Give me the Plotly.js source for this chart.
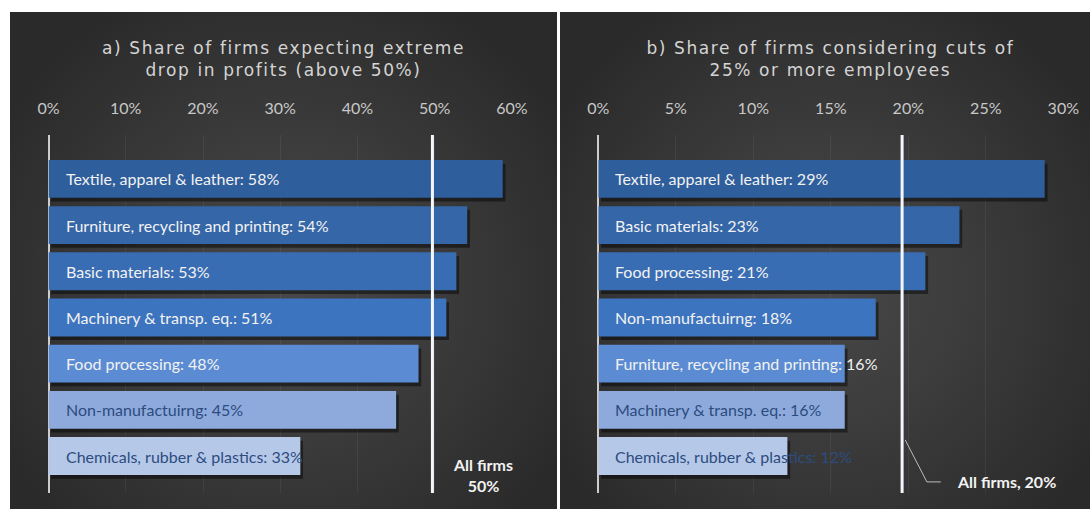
<!DOCTYPE html>
<html>
<head>
<meta charset="utf-8">
<script src="https://cdn.plot.ly/plotly-3.0.1.min.js"></script>
<style>
  html, body { margin: 0; padding: 0; background: #ffffff; }
  #wrap { position: relative; width: 1090px; height: 509px; background: #ffffff; overflow: hidden; }
  .panel { position: absolute; top: 12px; height: 497px;
    background: radial-gradient(ellipse 60% 65% at 50% 55%, #484848 0%, #3c3c3c 45%, #2a2a2a 100%); }
  #pa { left: 10px; width: 547px; }
  #pb { left: 560px; width: 530px; }
  #chart { position: absolute; left: 0; top: 0; width: 1090px; height: 509px; }
  .annotation[data-index="14"] text, .annotation[data-index="15"] text { letter-spacing: 1.6px; }
</style>
</head>
<body>
<div id="wrap">
  <div class="panel" id="pa"></div>
  <div class="panel" id="pb"></div>
  <div id="chart"></div>
</div>
<script>
// ---- Panel a) share of firms expecting extreme drop in profits ----
const categoriesA = ["Textile, apparel & leather", "Furniture, recycling and printing", "Basic materials",
  "Machinery & transp. eq.", "Food processing", "Non-manufactuirng", "Chemicals, rubber & plastics"];
const valuesA = [58.8, 54.2, 52.8, 51.5, 47.9, 45.0, 32.6];
const labelsA = ["58%", "54%", "53%", "51%", "48%", "45%", "33%"];
const allFirmsA = 49.7;
const allFirmsLabelA = "All firms<br>50%";

// ---- Panel b) share of firms considering cuts of 25% or more employees ----
const categoriesB = ["Textile, apparel & leather", "Basic materials", "Food processing", "Non-manufactuirng",
  "Furniture, recycling and printing", "Machinery & transp. eq.", "Chemicals, rubber & plastics"];
const valuesB = [28.8, 23.3, 21.1, 17.9, 15.9, 15.9, 12.2];
const labelsB = ["29%", "23%", "21%", "18%", "16%", "16%", "12%"];
const allFirmsB = 19.6;
const allFirmsLabelB = "All firms, 20%";

const ticksA = [0, 10, 20, 30, 40, 50, 60];
const tickTextA = ["0%", "10%", "20%", "30%", "40%", "50%", "60%"];
const ticksB = [0, 5, 10, 15, 20, 25, 30];
const tickTextB = ["0%", "5%", "10%", "15%", "20%", "25%", "30%"];

const titleA = "a) Share of firms expecting extreme<br>drop in profits (above 50%)";
const titleB = "b) Share of firms considering cuts of<br>25% or more employees";

// styles (by rank, dark -> light)
const barColors = ["#2f5e9c", "#3466a8", "#396db3", "#3d74bf", "#5b8cd3", "#8eaadc", "#b6c8e8"];
const textColors = ["#f2f2f2", "#f2f2f2", "#f2f2f2", "#f2f2f2", "#f2f2f2", "#2c4c80", "#2c4c80"];
const FONT = "Lato, 'Open Sans', sans-serif";
const BW = 0.82;

function panelTraces(cats, vals, xa, ya, shadowBase) {
  return [
    { type: "bar", orientation: "h", y: cats, x: vals, base: shadowBase,
      xaxis: xa, yaxis: ya, width: BW, offset: -BW / 2 + 0.08,
      marker: { color: "rgba(0,0,0,0.45)" }, hoverinfo: "skip", showlegend: false },
    { type: "bar", orientation: "h", y: cats, x: vals,
      xaxis: xa, yaxis: ya, width: BW, offset: -BW / 2,
      marker: { color: barColors }, hoverinfo: "x+y", showlegend: false }
  ];
}

const data = [].concat(
  panelTraces(categoriesA, valuesA, "x", "y", 0.35),
  panelTraces(categoriesB, valuesB, "x2", "y2", 0.18)
);

const annotations = [];
categoriesA.forEach((c, i) => annotations.push({
  xref: "x", yref: "y", x: 0, y: c, xanchor: "left", yanchor: "middle", xshift: 15,
  text: c + ": " + labelsA[i], showarrow: false,
  font: { family: FONT, size: 16, color: textColors[i] }
}));
categoriesB.forEach((c, i) => annotations.push({
  xref: "x2", yref: "y2", x: 0, y: c, xanchor: "left", yanchor: "middle", xshift: 15,
  text: c + ": " + labelsB[i], showarrow: false,
  font: { family: FONT, size: 16, color: textColors[i] }
}));
// titles
annotations.push({ xref: "paper", yref: "paper", x: 283 / 1090, y: 1 - 59 / 509, xanchor: "center", yanchor: "middle",
  text: titleA, showarrow: false, font: { family: "DejaVu Sans", size: 17, color: "#d4d4d4" } });
annotations.push({ xref: "paper", yref: "paper", x: 831 / 1090, y: 1 - 59 / 509, xanchor: "center", yanchor: "middle",
  text: titleB, showarrow: false, font: { family: "DejaVu Sans", size: 17, color: "#d4d4d4" } });
// all firms labels
annotations.push({ xref: "x", yref: "y", x: 56.2, y: 6.4, xanchor: "center", yanchor: "middle",
  text: allFirmsLabelA, showarrow: false, font: { family: FONT, size: 16, color: "#f2f2f2", weight: "bold" } });
annotations.push({ xref: "x2", yref: "y2", x: 23.0, y: 6.56, xanchor: "left", yanchor: "middle",
  text: allFirmsLabelB, showarrow: false, font: { family: FONT, size: 16, color: "#f2f2f2", weight: "bold" } });

const shapes = [
  { type: "line", xref: "x", yref: "y domain", x0: allFirmsA, x1: allFirmsA, y0: 0, y1: 1,
    line: { color: "#f4f6fb", width: 3 } },
  { type: "line", xref: "x2", yref: "y2 domain", x0: allFirmsB, x1: allFirmsB, y0: 0, y1: 1,
    line: { color: "#f4f6fb", width: 3 } },
  { type: "path", xref: "x2", yref: "y2",
    path: "M " + (allFirmsB + 0.2) + " 5.65 L 21.2 6.56 L 22.1 6.56",
    line: { color: "#bdbdbd", width: 1 } }
];

function xaxisDef(domain, range, tv, tt, anchor) {
  return {
    domain: domain, range: range, side: "top", anchor: anchor,
    tickvals: tv, ticktext: tt, ticks: "outside", ticklen: 14, tickcolor: "rgba(0,0,0,0)",
    tickfont: { family: FONT, size: 16, color: "#c8c8c8" },
    showgrid: true, gridcolor: "rgba(255,255,255,0.06)", gridwidth: 1,
    zeroline: true, zerolinecolor: "#cdcdcd", zerolinewidth: 2,
    showline: false, fixedrange: true
  };
}
function yaxisDef(cats, anchor) {
  return {
    domain: [16 / 509, 1 - 135 / 509], type: "category", categoryorder: "array", categoryarray: cats,
    range: [6.80, -0.95], showticklabels: false, showgrid: false, zeroline: false,
    showline: false, ticks: "", anchor: anchor, fixedrange: true
  };
}

const layout = {
  width: 1090, height: 509,
  margin: { l: 0, r: 0, t: 0, b: 0 },
  paper_bgcolor: "rgba(0,0,0,0)", plot_bgcolor: "rgba(0,0,0,0)",
  barmode: "overlay", showlegend: false,
  xaxis: xaxisDef([48.5 / 1090, 512 / 1090], [0, 60], ticksA, tickTextA, "y"),
  yaxis: yaxisDef(categoriesA, "x"),
  xaxis2: xaxisDef([598.3 / 1090, 1063.3 / 1090], [0, 30], ticksB, tickTextB, "y2"),
  yaxis2: yaxisDef(categoriesB, "x2"),
  annotations: annotations,
  shapes: shapes
};

Plotly.newPlot("chart", data, layout, { displayModeBar: false, staticPlot: true });
</script>
</body>
</html>
